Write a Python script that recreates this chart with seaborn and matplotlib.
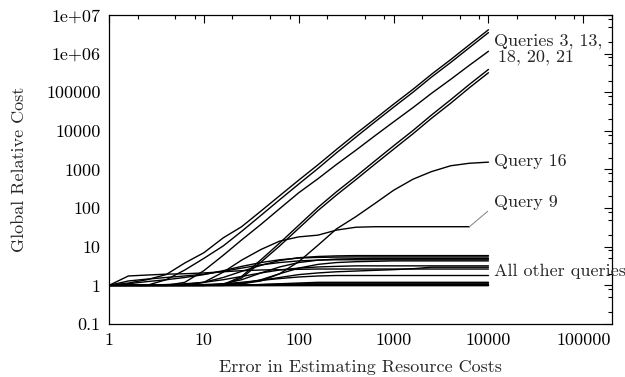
import numpy as np
import pandas as pd
import matplotlib
matplotlib.use("Agg")
import matplotlib.pyplot as plt
import matplotlib.ticker as mticker
import seaborn as sns

# ---------------------------------------------------
# Data
# ---------------------------------------------------
x_err = [1, 1.6, 2.5, 4, 6.3, 10, 16, 25, 40, 63, 100, 160, 250, 400, 630,
         1000, 1600, 2500, 4000, 6300, 10000]

# steep queries
q3 = [1, 1.15, 1.4, 1.9, 3.8, 7, 17, 33, 84, 210, 530, 1330, 3300, 8400, 20000,
      49000, 119000, 290000, 700000, 1700000, 4150000]
q13 = [1, 1, 1, 1.4, 2.5, 5, 10.5, 25, 65, 165, 420, 1070, 2700, 6900, 16800,
       41000, 100000, 245000, 590000, 1430000, 3500000]
q18 = [1, 1, 1, 1, 1.2, 2.4, 6, 15, 38, 97, 250, 580, 1350, 3150, 7350,
       17100, 40000, 93000, 216000, 500000, 1150000]
q20 = [1, 1, 1, 1, 1, 1, 1.05, 1.7, 4.6, 12.5, 36, 105, 265, 660, 1640,
       4100, 10200, 25500, 64000, 160000, 390000]
q21 = [1, 1, 1, 1, 1, 1, 1.03, 1.55, 4, 10.5, 30, 87, 218, 545, 1350,
       3350, 8400, 21000, 52000, 131000, 320000]

# saturating queries
q16 = [1, 1, 1, 1, 1, 1, 1, 1.1, 1.3, 2.0, 4.1, 11, 29, 60, 130,
       290, 560, 880, 1250, 1450, 1550]
q9 = [1, 1, 1, 1, 1, 1.2, 2.2, 4.5, 8.5, 14, 18, 20, 27, 32, 33,
      33, 33, 33, 33, 33, np.nan]

# all other queries
q1 = [1, 1, 1, 1, 1.05, 1.2, 1.6, 2.3, 3.3, 4.4, 5.2, 5.6, 5.8, 5.9, 5.9,
      5.9, 5.9, 5.9, 5.9, 5.9, 5.9]
q2 = [1, 1.1, 1.25, 1.4, 1.6, 1.9, 2.4, 3.1, 3.9, 4.6, 5.1, 5.3, 5.4, 5.45, 5.45,
      5.45, 5.45, 5.45, 5.45, 5.45, 5.45]
q4 = [1, 1, 1, 1, 1, 1, 1.1, 1.4, 2.1, 3.0, 3.9, 4.5, 4.8, 4.9, 5.0,
      5.0, 5.0, 5.0, 5.0, 5.0, 5.0]
q5 = [1, 1.3, 1.45, 1.6, 1.75, 1.95, 2.3, 2.8, 3.4, 3.9, 4.3, 4.5, 4.6, 4.6, 4.6,
      4.6, 4.6, 4.6, 4.6, 4.6, 4.6]
q6 = [1, 1, 1, 1, 1, 1, 1, 1.1, 1.4, 2.0, 2.8, 3.5, 3.9, 4.1, 4.2,
      4.3, 4.3, 4.3, 4.3, 4.3, 4.3]
q7 = [1, 1, 1, 1.05, 1.1, 1.2, 1.4, 1.7, 2.1, 2.5, 2.8, 3.0, 3.1, 3.2, 3.2,
      3.2, 3.2, 3.2, 3.2, 3.2, 3.2]
q8 = [1, 1.75, 1.85, 1.95, 2.0, 2.1, 2.25, 2.4, 2.5, 2.55, 2.6, 2.65, 2.65, 2.65, 2.65,
      2.65, 2.65, 2.65, 2.65, 2.65, 2.65]
q10 = [1, 1, 1, 1, 1, 1, 1.05, 1.15, 1.35, 1.6, 1.9, 2.1, 2.25, 2.35, 2.45,
       2.55, 2.7, 2.95, 2.95, 2.95, 2.95]
q11 = [1, 1, 1, 1, 1, 1.05, 1.1, 1.2, 1.35, 1.5, 1.65, 1.75, 1.8, 1.8, 1.8,
       1.8, 1.8, 1.8, 1.8, 1.8, 1.8]
q12 = [1, 1, 1, 1, 1, 1, 1, 1, 1.05, 1.1, 1.15, 1.2, 1.2, 1.2, 1.2,
       1.2, 1.2, 1.2, 1.2, 1.2, 1.2]
q14 = [1, 1, 1, 1, 1, 1, 1, 1.02, 1.05, 1.08, 1.1, 1.1, 1.1, 1.1, 1.1,
       1.1, 1.1, 1.1, 1.1, 1.1, 1.1]
q15 = [1, 1, 1, 1, 1, 1, 1, 1, 1, 1, 1, 1, 1, 1, 1,
       1, 1, 1, 1, 1, 1]
q17 = [1, 1, 1, 1, 1, 1, 1, 1, 1.01, 1.02, 1.02, 1.02, 1.02, 1.02, 1.02,
       1.02, 1.02, 1.02, 1.02, 1.02, 1.02]
q19 = [1, 1, 1, 1, 1, 1, 1.01, 1.02, 1.03, 1.04, 1.05, 1.05, 1.05, 1.05, 1.05,
       1.05, 1.05, 1.05, 1.05, 1.05, 1.05]
q22 = [1, 1, 1, 1, 1, 1, 1, 1, 1, 1, 1, 1, 1, 1, 1,
       1, 1, 1, 1, 1, 1]

x_ticks = [1, 10, 100, 1000, 10000, 100000]
x_tick_labels = ["1", "10", "100", "1000", "10000", "100000"]
y_ticks = [0.1, 1, 10, 100, 1000, 10000, 100000, 1e6, 1e7]
y_tick_labels = ["0.1", "1", "10", "100", "1000", "10000", "100000", "1e+06", "1e+07"]

queries = {
    "Q1": q1, "Q2": q2, "Q3": q3, "Q4": q4, "Q5": q5, "Q6": q6, "Q7": q7,
    "Q8": q8, "Q9": q9, "Q10": q10, "Q11": q11, "Q12": q12, "Q13": q13,
    "Q14": q14, "Q15": q15, "Q16": q16, "Q17": q17, "Q18": q18, "Q19": q19,
    "Q20": q20, "Q21": q21, "Q22": q22,
}

df = pd.concat(
    [pd.DataFrame({"query": name, "error": x_err, "cost": vals})
     for name, vals in queries.items()],
    ignore_index=True,
).dropna()

# ---------------------------------------------------
# Style
# ---------------------------------------------------
sns.set_style("white")
plt.rcParams["font.family"] = ["cmr10", "DejaVu Serif"]
plt.rcParams["axes.unicode_minus"] = False
plt.rcParams["font.size"] = 13

fig = plt.figure(figsize=(6.25, 3.77), dpi=100)
ax = fig.add_axes([0.1744, 0.1406, 0.8046, 0.8196])

sns.lineplot(
    data=df, x="error", y="cost", units="query", estimator=None,
    color="black", linewidth=1.0, legend=False, ax=ax,
)

ax.set_xscale("log")
ax.set_yscale("log")
ax.set_xlim(1, 200000)
ax.set_ylim(0.1, 1e7)

ax.xaxis.set_major_locator(mticker.FixedLocator(x_ticks))
ax.xaxis.set_major_formatter(mticker.FixedFormatter(x_tick_labels))
ax.yaxis.set_major_locator(mticker.FixedLocator(y_ticks))
ax.yaxis.set_major_formatter(mticker.FixedFormatter(y_tick_labels))
ax.xaxis.set_minor_locator(mticker.LogLocator(base=10, subs=(2, 5, 8), numticks=20))
ax.yaxis.set_minor_locator(mticker.LogLocator(base=10, subs=(2, 5, 8), numticks=20))
ax.xaxis.set_minor_formatter(mticker.NullFormatter())
ax.yaxis.set_minor_formatter(mticker.NullFormatter())

ax.tick_params(which="both", direction="in", top=True, right=True,
               width=0.8, colors="black", labelsize=13, pad=6)
ax.tick_params(which="major", length=6)
ax.tick_params(which="minor", length=3)
for sp in ax.spines.values():
    sp.set_linewidth(0.9)
    sp.set_color("black")

ax.set_xlabel("Error in Estimating Resource Costs", fontsize=13, labelpad=9)
ax.set_ylabel("Global Relative Cost", fontsize=13, labelpad=14)

# ---------------------------------------------------
# Labels
# ---------------------------------------------------
ax.text(11500, 2.05e6, "Queries 3, 13,", fontsize=13, va="center", ha="left")
ax.text(12500, 7.9e5, "18, 20, 21", fontsize=13, va="center", ha="left")
ax.text(11500, 1600, "Query 16", fontsize=13, va="center", ha="left")
ax.annotate("Query 9", xy=(x_err[-2], q9[-2]), xytext=(11500, 138),
            fontsize=13, va="center", ha="left",
            arrowprops=dict(arrowstyle="-", color="#808080", lw=0.7,
                            relpos=(0, 0.3), shrinkA=3, shrinkB=0))
ax.text(11500, 2.26, "All other queries", fontsize=13, va="center", ha="left")

fig.savefig("out.png", dpi=100)
